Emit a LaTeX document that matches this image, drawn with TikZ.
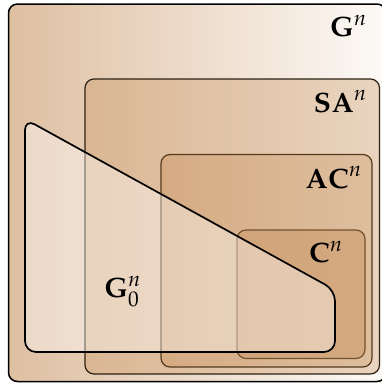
\documentclass[tikz,border=0pt]{standalone}
\usepackage{mathpazo}
\usetikzlibrary{calc}
\definecolor{gL}{RGB}{222,191,161}
\definecolor{gR}{RGB}{253,250,247}
\definecolor{saL}{RGB}{218,182,147}
\definecolor{saR}{RGB}{233,212,191}
\definecolor{acL}{RGB}{213,171,131}
\definecolor{acR}{RGB}{222,190,158}
\definecolor{cL}{RGB}{209,164,122}
\definecolor{cR}{RGB}{212,169,128}
\definecolor{saB}{RGB}{45,33,20}
\definecolor{acB}{RGB}{85,58,30}
\definecolor{cB}{RGB}{115,82,48}
\tikzset{
  setbox/.style={rounded corners=9pt},
  lbl/.style={anchor=base east, inner sep=0pt, font=\fontsize{28}{32}\selectfont}
}
\begin{document}
\begin{tikzpicture}[x=1pt,y=-1pt]
\useasboundingbox (0,0) rectangle (382,383);
\clip (0,0) rectangle (382,383);
\draw[setbox, line width=1.5pt, left color=gL, right color=gR] (8.5,4) rectangle (386,381.5);
\draw[setbox, line width=1.2pt, draw=saB, left color=saL, right color=saR] (85,79) rectangle (379.5,374);
\draw[setbox, line width=1.2pt, draw=acB, left color=acL, right color=acR] (161,154.5) rectangle (372,367);
\draw[setbox, line width=1.2pt, draw=cB, left color=cL, right color=cR] (237,230) rectangle (365,358.5);
\node[lbl] (g) at (367,36) {$\mathbf{G}^n$};
\node[lbl] (sa) at (367,112) {$\mathbf{SA}^n$};
\node[lbl] (ac) at (362,188) {$\mathbf{AC}^n$};
\node[lbl] (c) at (343,262) {$\mathbf{C}^n$};
\draw[line width=1.7pt, fill=white, fill opacity=0.4, rounded corners=11pt]
  (25,119) -- (335,290) -- (335,352) -- (25,352) -- cycle;
\node[anchor=base west, inner sep=0pt, font=\fontsize{28}{32}\selectfont] (g0) at (104,297) {$\mathbf{G}^n_0$};
\end{tikzpicture}
\end{document}
